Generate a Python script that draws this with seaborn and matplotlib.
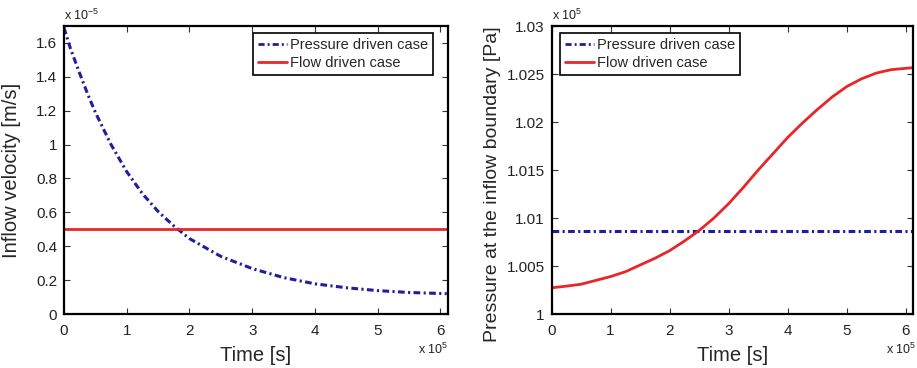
import numpy as np
import pandas as pd
import matplotlib
matplotlib.use("Agg")
import matplotlib.pyplot as plt
import seaborn as sns

# ---- data (time in units of 1e5 s) ----
t_left = [0, 0.1, 0.25, 0.375, 0.5, 0.75, 1.0, 1.25, 1.5, 1.75, 2.0, 2.5, 3.0, 3.5,
          4.0, 4.5, 5.0, 5.5, 6.1]
vel_pressure = [1.69, 1.57, 1.42, 1.30, 1.19, 1.00, 0.84, 0.71, 0.605, 0.52, 0.445, 0.34,
                0.268, 0.215, 0.178, 0.155, 0.138, 0.127, 0.12]    # x 1e-5 m/s
t_flow_left = [0, 6.12]
vel_flow = [0.5, 0.5]                                            # x 1e-5 m/s

t_right = [0, 0.25, 0.5, 0.75, 1.0, 1.25, 1.5, 1.75, 2.0, 2.25, 2.5, 2.75, 3.0, 3.25,
           3.5, 3.75, 4.0, 4.25, 4.5, 4.75, 5.0, 5.25, 5.5, 5.75, 6.1]
p_flow = [1.00273, 1.0029, 1.0031, 1.0035, 1.0039, 1.0044, 1.0051, 1.0058, 1.0066,
          1.0076, 1.0087, 1.0100, 1.0115, 1.0132, 1.0150, 1.0167, 1.0184, 1.0199,
          1.0213, 1.0226, 1.0237, 1.0245, 1.0251, 1.02545, 1.02565]   # x 1e5 Pa
t_press_right = [0, 6.12]
p_pressure = [1.0086, 1.0086]                                    # x 1e5 Pa

x_ticks = [0, 1, 2, 3, 4, 5, 6]
left_yticks = [0, 0.2, 0.4, 0.6, 0.8, 1.0, 1.2, 1.4, 1.6]
left_yticklabels = ["0", "0.2", "0.4", "0.6", "0.8", "1", "1.2", "1.4", "1.6"]
right_yticks = [1.0, 1.005, 1.01, 1.015, 1.02, 1.025, 1.03]
right_yticklabels = ["1", "1.005", "1.01", "1.015", "1.02", "1.025", "1.03"]

labels = ["Pressure driven case", "Flow driven case"]

# ---- style ----
sns.set_style("ticks")
plt.rcParams["font.family"] = ["Liberation Sans", "DejaVu Sans"]
plt.rcParams["mathtext.fontset"] = "custom"
plt.rcParams["mathtext.rm"] = "Liberation Sans"
plt.rcParams["mathtext.it"] = "Liberation Sans"
plt.rcParams["mathtext.bf"] = "Liberation Sans"

BLUE = "#1f1f9e"
RED = "#e8262a"
dashdot = (0, (2.2, 1.1, 0.7, 1.1))

fig = plt.figure(figsize=(9.17, 3.68), dpi=100)
axL = fig.add_axes([64/917, 1-314/368, (448-64)/917, (314-26)/368])
axR = fig.add_axes([551.5/917, 1-314/368, (913-551.5)/917, (314-26)/368])

# left panel
sns.lineplot(x=t_left, y=vel_pressure, ax=axL, color=BLUE, lw=2.2, label=labels[0])
axL.lines[-1].set_linestyle(dashdot)
sns.lineplot(x=t_flow_left, y=vel_flow, ax=axL, color=RED, lw=2.0, label=labels[1])
axL.set_xlim(0, 6.12)
axL.set_ylim(0, 1.7)
axL.set_yticks(left_yticks)
axL.set_yticklabels(left_yticklabels)
axL.set_ylabel("Inflow velocity [m/s]", fontsize=14.5)
axL.yaxis.set_label_coords(-0.112, 0.5)

# right panel
sns.lineplot(x=t_press_right, y=p_pressure, ax=axR, color=BLUE, lw=2.2, label=labels[0])
axR.lines[-1].set_linestyle(dashdot)
sns.lineplot(x=t_right, y=p_flow, ax=axR, color=RED, lw=2.0, label=labels[1])
axR.set_xlim(0, 6.12)
axR.set_ylim(1.0, 1.03)
axR.set_yticks(right_yticks)
axR.set_yticklabels(right_yticklabels)
axR.set_ylabel("Pressure at the inflow boundary [Pa]", fontsize=14)
axR.yaxis.set_label_coords(-0.14, 0.451)

for ax, anchor, loc in ((axL, (0.961, 0.976), "upper right"),
                        (axR, (0.0235, 0.976), "upper left")):
    ax.set_xticks(x_ticks)
    ax.set_xticklabels([str(v) for v in x_ticks])
    ax.set_xlabel("Time [s]", fontsize=14.5, labelpad=6)
    ax.tick_params(direction="in", length=4, width=0.8, labelsize=11,
                   top=True, right=True, colors="#333333", labelcolor="#222222")
    ax.tick_params(axis="x", pad=7)
    ax.tick_params(axis="y", pad=5)
    for s in ax.spines.values():
        s.set_linewidth(1.6)
        s.set_color("black")
    leg = ax.legend(loc=loc, bbox_to_anchor=anchor, fontsize=10.5, frameon=True,
                    fancybox=False, edgecolor="black", borderaxespad=0,
                    handlelength=2.0, handletextpad=0.2, borderpad=0.35,
                    labelspacing=0.3)
    leg.get_frame().set_linewidth(1.2)
    leg.get_frame().set_alpha(1)
    for h in leg.get_lines():
        h.set_linewidth(2.0)

# multipliers
axL.text(0.0, 1.01, r"x 10$^{-5}$", transform=axL.transAxes, fontsize=9,
         ha="left", va="bottom", color="#222222")
axR.text(0.0, 1.01, r"x 10$^{5}$", transform=axR.transAxes, fontsize=9,
         ha="left", va="bottom", color="#222222")
axL.text(1.0, -0.095, r"x 10$^{5}$", transform=axL.transAxes, fontsize=9,
         ha="right", va="top", color="#222222")
axR.text(1.01, -0.095, r"x 10$^{5}$", transform=axR.transAxes, fontsize=9,
         ha="right", va="top", color="#222222")

fig.savefig("out.png", dpi=100)
